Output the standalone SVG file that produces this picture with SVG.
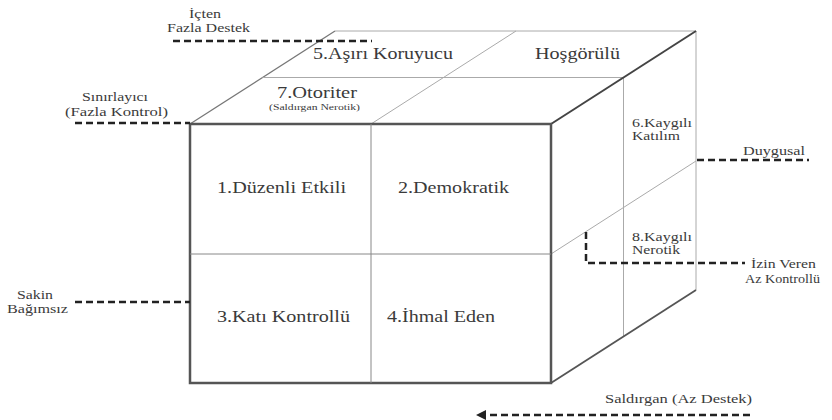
<svg xmlns="http://www.w3.org/2000/svg" width="832" height="420" viewBox="0 0 832 420">
<defs>
<style>
text{fill:#3a3a3a;}
.big{font-size:17px;}
.mid{font-size:16px;}
.sm{font-size:13px;}
.xs{font-size:12px;}
.tiny{font-size:8px;}
.thin{stroke:#aaa;stroke-width:1;fill:none;}
.edge{stroke:#777;stroke-width:1.3;fill:none;}
.thick{stroke:#555;stroke-width:2.5;fill:none;}
.dash{stroke:#222;stroke-width:2.5;stroke-dasharray:7 4;fill:none;}
</style>
<marker id="ah" viewBox="0 0 10 10" refX="2" refY="5" markerWidth="4" markerHeight="4" orient="auto-start-reverse">
<path d="M0,0 L10,5 L0,10 z" fill="#222"/>
</marker>
</defs>
<rect width="832" height="420" fill="#fff"/>
<g id="cube">
<polygon points="190,124 335,31 696,31 551,124" fill="#fff" stroke="none"/>
<polyline class="thin" points="335,31 696,31 696,290"/>
<line class="edge" x1="190" y1="124" x2="335" y2="31"/>
<line class="thin" x1="262.5" y1="77.5" x2="623.5" y2="77.5"/>
<line class="thin" x1="371" y1="124" x2="516" y2="31"/>
<line class="thin" x1="623.5" y1="77.5" x2="623.5" y2="336.5"/>
<line class="thin" x1="551" y1="254" x2="696" y2="161"/>
<line class="thick" x1="551" y1="124" x2="696" y2="31" style="stroke:#444;stroke-width:2"/>
<line class="thick" x1="551" y1="383" x2="696" y2="290" style="stroke-width:1.8"/>
<rect class="thick" x="190" y="124" width="361" height="259"/>
<line class="thin" x1="371" y1="124" x2="371" y2="383" style="stroke:#888"/>
<line class="thin" x1="190" y1="254" x2="551" y2="254" style="stroke:#888"/>
</g>
<g font-family="Liberation Serif, DejaVu Serif, serif">
<g id="top-labels">
<text class="big" x="313" y="59" textLength="140" lengthAdjust="spacingAndGlyphs">5.Aşırı Koruyucu</text>
<text class="big" x="535" y="59" textLength="85" lengthAdjust="spacingAndGlyphs">Hoşgörülü</text>
<text class="big" x="277" y="98" textLength="80" lengthAdjust="spacingAndGlyphs">7.Otoriter</text>
<text class="tiny" x="269" y="110" textLength="91" lengthAdjust="spacingAndGlyphs">(Saldırgan Nerotik)</text>
</g>
<g id="front-labels">
<text class="mid" x="217" y="193" textLength="129" lengthAdjust="spacingAndGlyphs">1.Düzenli Etkili</text>
<text class="mid" x="398" y="193" textLength="111" lengthAdjust="spacingAndGlyphs">2.Demokratik</text>
<text class="mid" x="217" y="322" textLength="133" lengthAdjust="spacingAndGlyphs">3.Katı Kontrollü</text>
<text class="mid" x="387" y="322" textLength="108" lengthAdjust="spacingAndGlyphs">4.İhmal Eden</text>
</g>
<g id="side-labels">
<text class="xs" x="632" y="127" textLength="60" lengthAdjust="spacingAndGlyphs">6.Kaygılı</text>
<text class="xs" x="632" y="140" textLength="48" lengthAdjust="spacingAndGlyphs">Katılım</text>
<text class="xs" x="632" y="241" textLength="60" lengthAdjust="spacingAndGlyphs">8.Kaygılı</text>
<text class="xs" x="632" y="254" textLength="48" lengthAdjust="spacingAndGlyphs">Nerotik</text>
</g>
<g id="axis-labels">
<text class="sm" x="189" y="18" textLength="32" lengthAdjust="spacingAndGlyphs">İçten</text>
<text class="sm" x="167" y="32" textLength="83" lengthAdjust="spacingAndGlyphs">Fazla Destek</text>
<text class="sm" x="82" y="101" textLength="66" lengthAdjust="spacingAndGlyphs">Sınırlayıcı</text>
<text class="sm" x="65" y="116" textLength="103" lengthAdjust="spacingAndGlyphs">(Fazla Kontrol)</text>
<text class="sm" x="17" y="299" textLength="36" lengthAdjust="spacingAndGlyphs">Sakin</text>
<text class="sm" x="7" y="313" textLength="61" lengthAdjust="spacingAndGlyphs">Bağımsız</text>
<text class="sm" x="743" y="155" textLength="62" lengthAdjust="spacingAndGlyphs">Duygusal</text>
<text class="sm" x="751" y="268" textLength="65" lengthAdjust="spacingAndGlyphs">İzin Veren</text>
<text class="sm" x="745" y="283" textLength="75" lengthAdjust="spacingAndGlyphs">Az Kontrollü</text>
<text class="sm" x="605" y="403" textLength="147" lengthAdjust="spacingAndGlyphs">Saldırgan (Az Destek)</text>
</g>
</g>
<g id="connectors">
<line class="dash" x1="173" y1="41" x2="372" y2="41"/>
<line class="dash" x1="75" y1="123" x2="190" y2="123"/>
<line class="dash" x1="75" y1="302" x2="190" y2="302"/>
<line class="dash" x1="697" y1="160" x2="809" y2="160"/>
<path class="dash" d="M586,232 V263 H745"/>
<line class="dash" x1="750" y1="415" x2="484" y2="415" marker-end="url(#ah)"/>
</g>
</svg>
